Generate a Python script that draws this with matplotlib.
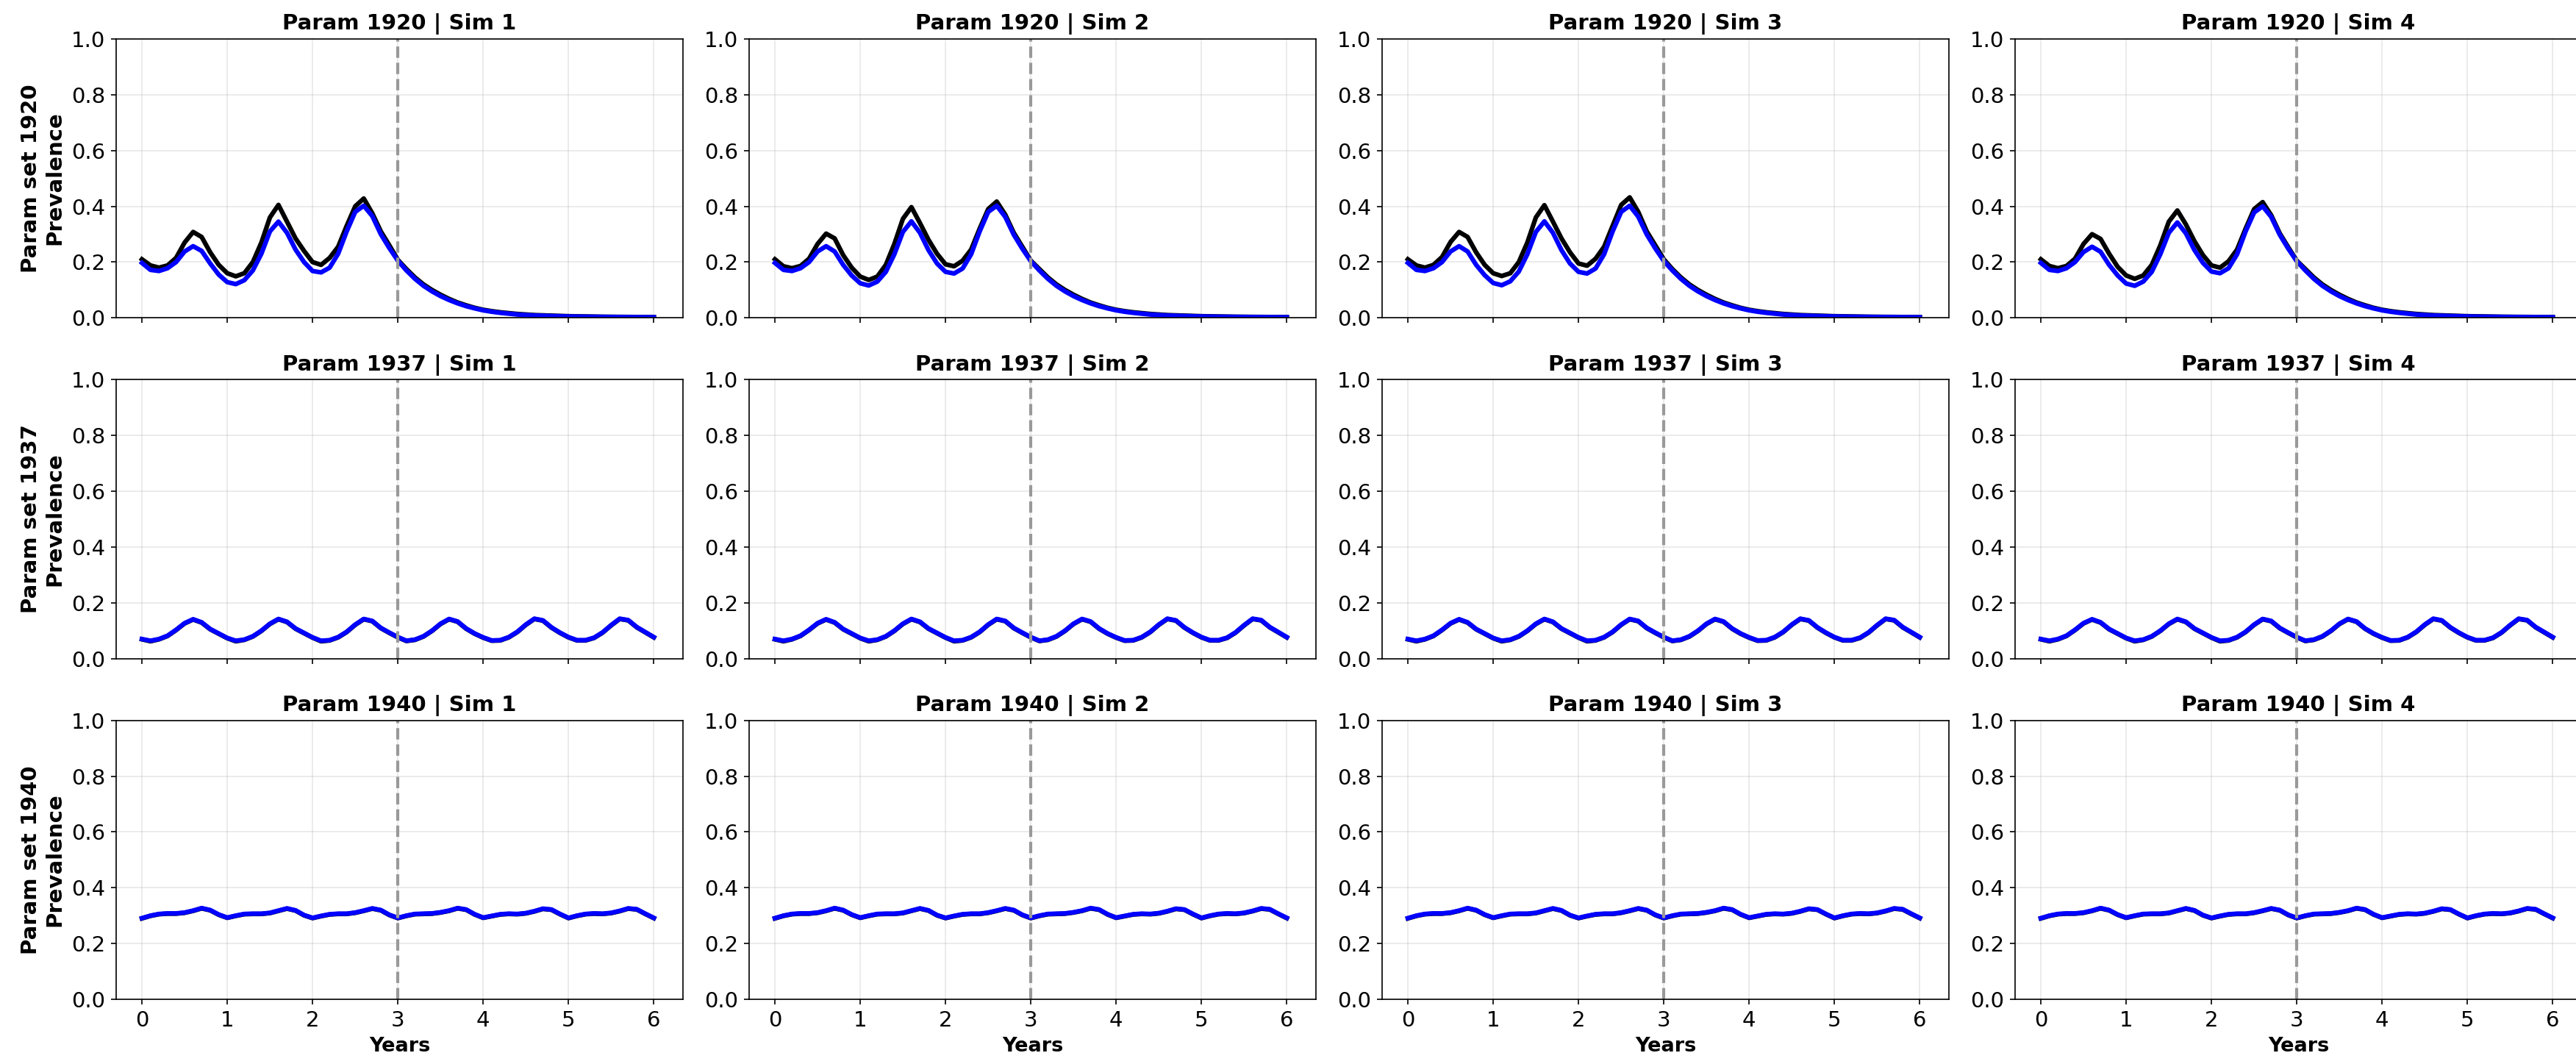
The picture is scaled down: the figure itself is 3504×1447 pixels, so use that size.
import matplotlib
matplotlib.use('Agg')
import matplotlib.pyplot as plt
import numpy as np

# time axis (years), one value every 0.1 year
years = np.round(np.arange(0, 61) * 0.1, 1)
cutoff = 3.0
params = [1920, 1937, 1940]
sims = [1, 2, 3, 4]

# Param 1920: first 3 years per sim (0.0 .. 3.0), then shared decay (3.1 .. 6.0)
p1920_black_head = {
    1: [0.21, 0.188, 0.18, 0.188, 0.215, 0.27, 0.308, 0.29, 0.235, 0.19, 0.16,
        0.149, 0.16, 0.20, 0.27, 0.36, 0.405, 0.345, 0.285, 0.24, 0.20,
        0.19, 0.215, 0.255, 0.33, 0.40, 0.428, 0.375, 0.31, 0.26, 0.208],
    2: [0.21, 0.185, 0.178, 0.186, 0.212, 0.265, 0.302, 0.285, 0.225, 0.18, 0.148,
        0.136, 0.148, 0.19, 0.265, 0.355, 0.397, 0.34, 0.28, 0.23, 0.192,
        0.185, 0.205, 0.245, 0.32, 0.39, 0.417, 0.37, 0.305, 0.255, 0.205],
    3: [0.21, 0.188, 0.18, 0.19, 0.218, 0.272, 0.308, 0.29, 0.235, 0.19, 0.16,
        0.15, 0.16, 0.20, 0.27, 0.36, 0.404, 0.345, 0.285, 0.235, 0.195,
        0.187, 0.212, 0.255, 0.33, 0.405, 0.432, 0.38, 0.31, 0.26, 0.21],
    4: [0.21, 0.186, 0.178, 0.186, 0.212, 0.265, 0.30, 0.283, 0.23, 0.183, 0.152,
        0.14, 0.152, 0.19, 0.26, 0.345, 0.385, 0.335, 0.275, 0.225, 0.188,
        0.18, 0.203, 0.245, 0.32, 0.39, 0.415, 0.368, 0.303, 0.253, 0.205],
}
p1920_blue_head = {
    1: [0.197, 0.172, 0.168, 0.178, 0.20, 0.238, 0.257, 0.24, 0.195, 0.155, 0.128,
        0.121, 0.135, 0.17, 0.23, 0.31, 0.345, 0.305, 0.245, 0.20, 0.168,
        0.163, 0.18, 0.23, 0.31, 0.38, 0.402, 0.365, 0.30, 0.25, 0.205],
    2: [0.197, 0.172, 0.168, 0.178, 0.20, 0.238, 0.257, 0.238, 0.19, 0.152, 0.124,
        0.116, 0.13, 0.165, 0.228, 0.308, 0.346, 0.305, 0.243, 0.195, 0.165,
        0.159, 0.177, 0.228, 0.31, 0.38, 0.402, 0.362, 0.298, 0.248, 0.203],
    3: [0.197, 0.172, 0.168, 0.178, 0.20, 0.238, 0.257, 0.238, 0.19, 0.153, 0.125,
        0.117, 0.131, 0.166, 0.228, 0.308, 0.346, 0.305, 0.243, 0.195, 0.165,
        0.159, 0.177, 0.228, 0.31, 0.38, 0.402, 0.363, 0.299, 0.249, 0.204],
    4: [0.197, 0.172, 0.168, 0.178, 0.20, 0.236, 0.255, 0.237, 0.19, 0.152, 0.123,
        0.115, 0.13, 0.165, 0.228, 0.305, 0.342, 0.303, 0.243, 0.197, 0.166,
        0.16, 0.178, 0.228, 0.31, 0.378, 0.40, 0.362, 0.298, 0.248, 0.203],
}
p1920_black_tail = [0.175, 0.145, 0.12, 0.10, 0.083, 0.068, 0.055, 0.045, 0.036, 0.029,
                    0.024, 0.020, 0.017, 0.014, 0.012, 0.010, 0.009, 0.008, 0.007, 0.006,
                    0.0055, 0.005, 0.0045, 0.004, 0.0038, 0.0035, 0.0033, 0.003, 0.0028, 0.0026]
p1920_blue_tail = [0.17, 0.14, 0.115, 0.095, 0.078, 0.064, 0.052, 0.042, 0.034, 0.027,
                   0.022, 0.018, 0.015, 0.012, 0.010, 0.0085, 0.0075, 0.0065, 0.0058, 0.005,
                   0.0045, 0.004, 0.0037, 0.0034, 0.0031, 0.0029, 0.0027, 0.0025, 0.0023, 0.0022]

# Param 1937 (all sims look the same)
p1937_blue = [0.070, 0.064, 0.070, 0.082, 0.103, 0.127, 0.141, 0.130, 0.106, 0.090,
              0.074, 0.064, 0.068, 0.080, 0.100, 0.125, 0.142, 0.132, 0.108, 0.092,
              0.076, 0.064, 0.066, 0.077, 0.096, 0.122, 0.142, 0.135, 0.110, 0.093,
              0.077, 0.064, 0.068, 0.080, 0.100, 0.125, 0.142, 0.133, 0.108, 0.090,
              0.076, 0.065, 0.066, 0.077, 0.096, 0.122, 0.143, 0.137, 0.112, 0.093,
              0.077, 0.066, 0.066, 0.075, 0.094, 0.120, 0.143, 0.138, 0.113, 0.095,
              0.077]
p1937_black = [0.069, 0.062, 0.069, 0.081, 0.102, 0.126, 0.140, 0.129, 0.105, 0.089,
               0.073, 0.062, 0.067, 0.079, 0.099, 0.124, 0.141, 0.131, 0.107, 0.091,
               0.075, 0.062, 0.065, 0.076, 0.095, 0.121, 0.141, 0.134, 0.109, 0.092,
               0.076, 0.063, 0.067, 0.079, 0.099, 0.124, 0.141, 0.132, 0.107, 0.089,
               0.075, 0.064, 0.065, 0.076, 0.095, 0.121, 0.142, 0.136, 0.111, 0.092,
               0.076, 0.065, 0.065, 0.074, 0.093, 0.119, 0.142, 0.137, 0.112, 0.094,
               0.076]

# Param 1940 (all sims look the same)
p1940_blue = [0.291, 0.300, 0.306, 0.308, 0.308, 0.311, 0.318, 0.327, 0.320, 0.304,
              0.293, 0.300, 0.306, 0.307, 0.307, 0.310, 0.318, 0.326, 0.319, 0.302,
              0.292, 0.299, 0.305, 0.307, 0.307, 0.311, 0.318, 0.326, 0.320, 0.303,
              0.292, 0.300, 0.306, 0.307, 0.308, 0.312, 0.318, 0.327, 0.322, 0.305,
              0.293, 0.299, 0.305, 0.307, 0.306, 0.309, 0.316, 0.325, 0.322, 0.306,
              0.292, 0.300, 0.306, 0.308, 0.307, 0.310, 0.317, 0.326, 0.323, 0.307,
              0.292]
p1940_black = [0.290, 0.299, 0.305, 0.307, 0.307, 0.310, 0.317, 0.326, 0.319, 0.303,
               0.292, 0.299, 0.305, 0.306, 0.306, 0.309, 0.317, 0.325, 0.318, 0.301,
               0.291, 0.298, 0.304, 0.306, 0.306, 0.310, 0.317, 0.325, 0.319, 0.302,
               0.291, 0.299, 0.305, 0.306, 0.307, 0.311, 0.317, 0.326, 0.321, 0.304,
               0.292, 0.298, 0.304, 0.306, 0.305, 0.308, 0.315, 0.324, 0.321, 0.305,
               0.291, 0.299, 0.305, 0.307, 0.306, 0.309, 0.316, 0.325, 0.322, 0.306,
               0.291]


def get_series(param, sim):
    if param == 1920:
        return (p1920_black_head[sim] + p1920_black_tail,
                p1920_blue_head[sim] + p1920_blue_tail)
    if param == 1937:
        return p1937_black, p1937_blue
    return p1940_black, p1940_blue


fig, axes = plt.subplots(3, 4, figsize=(3504 / 150, 1447 / 150), sharex=True)
fig.subplots_adjust(left=0.0451, right=1.0023, top=0.9634, bottom=0.0608,
                    wspace=0.1167, hspace=0.2216)

for i, param in enumerate(params):
    for j, sim in enumerate(sims):
        ax = axes[i, j]
        black, blue = get_series(param, sim)
        ax.plot(years, black, color='black', lw=3)
        ax.plot(years, blue, color='blue', lw=3)
        ax.axvline(cutoff, color='#999999', ls='--', lw=2)
        ax.set_ylim(0, 1)
        ax.set_xlim(-0.302, 6.342)
        ax.set_xticks(range(7))
        ax.grid(True, alpha=0.3)
        ax.tick_params(labelsize=14)
        ax.set_title(f'Param {param} | Sim {sim}', fontsize=14, fontweight='bold')
        if j == 0:
            ax.set_ylabel(f'Param set {param}\nPrevalence', fontsize=14, fontweight='bold')
        if i == 2:
            ax.set_xlabel('Years', fontsize=13, fontweight='bold')

plt.savefig('out.png', dpi=150)
